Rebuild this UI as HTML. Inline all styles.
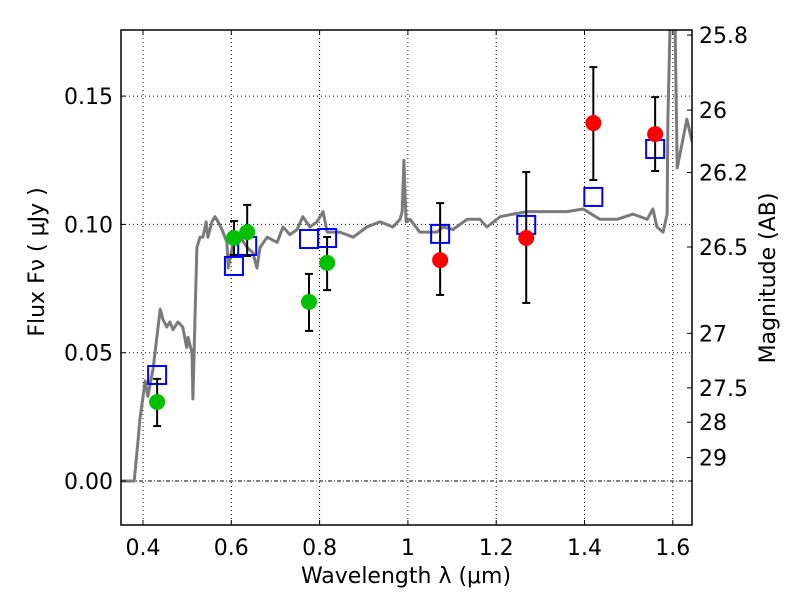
<!DOCTYPE html>
<html><head><meta charset="utf-8"><style>
body{margin:0;background:#fff}
svg text{font-family:"DejaVu Sans","Liberation Sans",sans-serif;fill:#000}
</style></head><body>
<svg id="c" width="800" height="600" xmlns="http://www.w3.org/2000/svg">
<rect width="800" height="600" fill="#fff"/>
<g id="grid"></g><g id="marks"></g><g id="axes"></g>
</svg>
<script>
const xTicks=[0.4,0.6,0.8,1.0,1.2,1.4,1.6];
const xTickLabels=["0.4","0.6","0.8","1","1.2","1.4","1.6"];
const yTicks=[0,0.05,0.10,0.15];
const yTickLabels=["0.00","0.05","0.10","0.15"];
const magTicks=[25.8,26,26.2,26.5,27,27.5,28,29];
const magTickLabels=["25.8","26","26.2","26.5","27","27.5","28","29"];
const modelWave=[0.350,0.380,0.389,0.393,0.405,0.411,0.423,0.439,0.445,0.454,0.461,0.468,0.479,0.490,0.499,0.502,0.511,0.513,0.518,0.522,0.529,0.536,0.543,0.547,0.556,0.563,0.570,0.579,0.590,0.593,0.602,0.608,0.620,0.636,0.649,0.658,0.665,0.681,0.704,0.717,0.733,0.749,0.762,0.778,0.794,0.808,0.817,0.846,0.876,0.907,0.937,0.966,0.982,0.987,0.991,0.996,1.005,1.027,1.066,1.080,1.102,1.134,1.163,1.179,1.209,1.238,1.270,1.315,1.360,1.397,1.435,1.474,1.510,1.542,1.555,1.564,1.578,1.587,1.589,1.594,1.605,1.610,1.632,1.644];
const modelFlux=[0,0,0.016,0.024,0.039,0.033,0.044,0.067,0.063,0.060,0.062,0.059,0.062,0.060,0.052,0.056,0.050,0.032,0.065,0.091,0.095,0.095,0.101,0.095,0.101,0.103,0.101,0.098,0.093,0.083,0.091,0.093,0.095,0.091,0.089,0.083,0.091,0.095,0.093,0.099,0.096,0.098,0.103,0.099,0.101,0.105,0.097,0.097,0.095,0.099,0.101,0.099,0.102,0.105,0.125,0.101,0.102,0.097,0.097,0.099,0.098,0.102,0.102,0.099,0.103,0.104,0.105,0.105,0.105,0.106,0.102,0.102,0.104,0.102,0.106,0.099,0.097,0.104,0.141,0.18,0.18,0.122,0.141,0.132];
const greenWave=[0.432,0.606,0.636,0.776,0.817];
const greenFlux=[0.0308,0.0947,0.0970,0.0698,0.0850];
const greenErrLo=[0.0214,0.0881,0.0877,0.0585,0.0744];
const greenErrHi=[0.0398,0.1013,0.1076,0.0807,0.0951];
const redWave=[1.073,1.268,1.420,1.560];
const redFlux=[0.0861,0.0947,0.1395,0.1352];
const redErrLo=[0.0725,0.0694,0.1173,0.1208];
const redErrHi=[0.1083,0.1204,0.1613,0.1496];
const modelPhotWave=[0.432,0.606,0.636,0.776,0.817,1.073,1.268,1.420,1.560];
const modelPhotFlux=[0.0413,0.0838,0.0916,0.0943,0.0947,0.0963,0.0998,0.1107,0.1294];

const L=121,R=692,T=30,B=525;
const fx=w=>143+(w-0.4)*441.5;
const fy=f=>481-f*2566;
const NS="http://www.w3.org/2000/svg";
function mk(tag,attrs,parent,txt){const e=document.createElementNS(NS,tag);for(const k in attrs)e.setAttribute(k,attrs[k]);if(txt!==undefined)e.textContent=txt;parent.appendChild(e);return e;}
const grid=document.getElementById('grid'),marks=document.getElementById('marks'),axes=document.getElementById('axes');
const defs=mk('defs',{},document.getElementById('c'));
const cp=mk('clipPath',{id:'pc'},defs);mk('rect',{x:L,y:T,width:R-L,height:B-T},cp);
marks.setAttribute('clip-path','url(#pc)');

xTicks.forEach((t,i)=>{
 const g=mk('line',{x1:fx(t),x2:fx(t),y1:T,y2:B,stroke:'#000','stroke-width':1,'stroke-dasharray':'1,3'},grid);
 
 mk('line',{x1:fx(t),x2:fx(t),y1:B,y2:B-5,stroke:'#000'},axes);
 mk('line',{x1:fx(t),x2:fx(t),y1:T,y2:T+5,stroke:'#000'},axes);
 const tx=mk('text',{x:fx(t),y:B+30,'font-size':22,'text-anchor':'middle'},axes,xTickLabels[i]);
 
});
yTicks.forEach((t,i)=>{
 const g=mk('line',{x1:L,x2:R,y1:fy(t),y2:fy(t),stroke:'#000','stroke-width':1,'stroke-dasharray':t===0?'4,2,1,2':'1,3'},grid);
 
 mk('line',{x1:L,x2:L+5,y1:fy(t),y2:fy(t),stroke:'#000'},axes);
 const tx=mk('text',{x:L-8,y:fy(t)+8,'font-size':22,'text-anchor':'end'},axes,yTickLabels[i]);
 
});
magTicks.forEach((m,i)=>{
 const y=fy(Math.pow(10,(23.9-m)/2.5));
 mk('line',{x1:R-5,x2:R,y1:y,y2:y,stroke:'#000'},axes);
 const tx=mk('text',{x:R+7,y:y+8,'font-size':22},axes,magTickLabels[i]);
 
});
let d=modelWave.map((w,i)=>(i?'L':'M')+fx(w).toFixed(1)+','+fy(modelFlux[i]).toFixed(1)).join(' ');
const mc=mk('path',{d:d,fill:'none',stroke:'#7a7a7a','stroke-width':3,'stroke-linejoin':'round'},marks);

function errs(ws,lo,hi){ws.forEach((w,i)=>{const x=fx(w);
 const e=mk('g',{stroke:'#000','stroke-width':2},marks);
 
 mk('line',{x1:x,x2:x,y1:fy(lo[i]),y2:fy(hi[i])},e);
 mk('line',{x1:x-4,x2:x+4,y1:fy(lo[i]),y2:fy(lo[i])},e);
 mk('line',{x1:x-4,x2:x+4,y1:fy(hi[i]),y2:fy(hi[i])},e);});}
modelPhotWave.forEach((w,i)=>{
 const s=mk('rect',{x:fx(w)-9,y:fy(modelPhotFlux[i])-9,width:18,height:18,fill:'none',stroke:'#0000ff','stroke-width':2},marks);
 
});
errs(greenWave,greenErrLo,greenErrHi);errs(redWave,redErrLo,redErrHi);
greenWave.forEach((w,i)=>{const c=mk('circle',{cx:fx(w),cy:fy(greenFlux[i]),r:8,fill:'#00c000'},marks);
 });
redWave.forEach((w,i)=>{const c=mk('circle',{cx:fx(w),cy:fy(redFlux[i]),r:8,fill:'#ff0000'},marks);
 });
const fr=mk('rect',{x:L,y:T,width:R-L,height:B-T,fill:'none',stroke:'#000','stroke-width':1.5},axes);

const xt=mk('text',{x:406,y:583,'font-size':22,'text-anchor':'middle'},axes,'Wavelength  λ (μm)');

const yt=mk('text',{x:0,y:0,'font-size':22,'text-anchor':'middle',transform:'translate(44,262) rotate(-90)'},axes,'Flux  Fν ( μJy )');

const rt=mk('text',{x:0,y:0,'font-size':22,'text-anchor':'middle',transform:'translate(775,278) rotate(-90)'},axes,'Magnitude (AB)');

</script>
</body></html>
